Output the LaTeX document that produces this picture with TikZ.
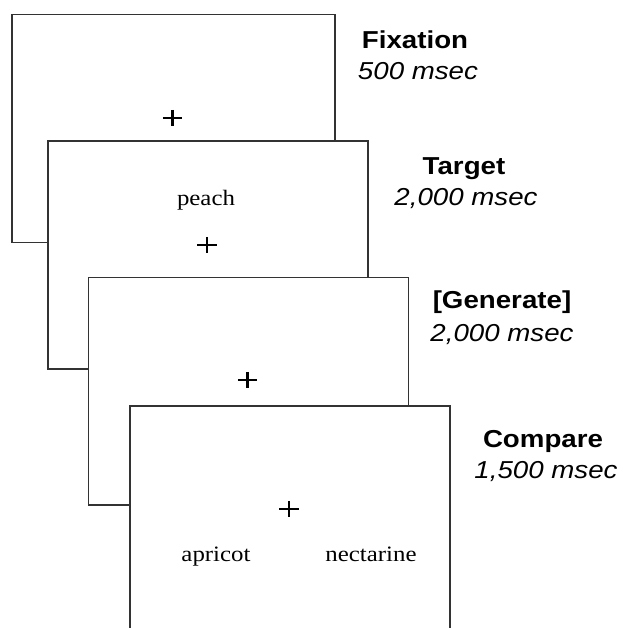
\documentclass[tikz,border=0pt]{standalone}
\usepackage{fontspec}
\setmainfont{Liberation Serif}[FakeStretch=1.13]
\newfontfamily\labelfont{Liberation Sans}[FakeStretch=1.13]
\begin{document}
\begin{tikzpicture}[x=1pt,y=-1pt,
  screen/.style={draw=black!80, line width=1.5pt, fill=white, anchor=north west,
    inner sep=0pt, minimum width=320pt, minimum height=227.5pt},
  crossmark/.style={inner sep=0pt, minimum width=19pt, minimum height=16pt},
  crossline/.style={line width=2.3pt, black},
  word/.style={anchor=base, inner sep=0pt, font=\fontsize{22}{26}\selectfont},
  title/.style={anchor=base, inner sep=0pt, font=\labelfont\bfseries\fontsize{24.5}{28}\selectfont},
  dur/.style={anchor=base, inner sep=0pt, font=\labelfont\itshape\fontsize{24.5}{28}\selectfont}]
\useasboundingbox (0,0) rectangle (622,628);
\clip (0,0) rectangle (622,628);
\fill[white] (0,0) rectangle (622,628);

% screens
\node[screen, minimum width=323pt] (s1) at (11,14) {};
\node[screen] (s2) at (47,140.5) {};
\node[screen] (s3) at (87.5,276.7) {};
\node[screen, minimum height=260pt] (s4) at (129,405) {};

% fixation crosses
\node[crossmark] (c1) at (172.5,118) {};
\node[crossmark] (c2) at (207,245) {};
\node[crossmark] (c3) at (247.5,380) {};
\node[crossmark] (c4) at (289,509) {};
\foreach \c in {c1,c2,c3,c4}
  \draw[crossline] (\c.west) -- (\c.east) (\c.north) -- (\c.south);

% words
\node[word] (w1) at (206,205) {peach};
\node[word] (w2) at (216,561) {apricot};
\node[word] (w3) at (371,561) {nectarine};

% labels
\node[title] (t1) at (415,49) {Fixation};
\node[dur] (d1) at (418,80) {500 msec};
\node[title] (t2) at (464,175) {Target};
\node[dur] (d2) at (466,206) {2,000 msec};
\node[title] (t3) at (502,308) {[Generate]};
\node[dur] (d3) at (502,341) {2,000 msec};
\node[title] (t4) at (543,447) {Compare};
\node[dur] (d4) at (546,478) {1,500 msec};
\end{tikzpicture}
\end{document}
